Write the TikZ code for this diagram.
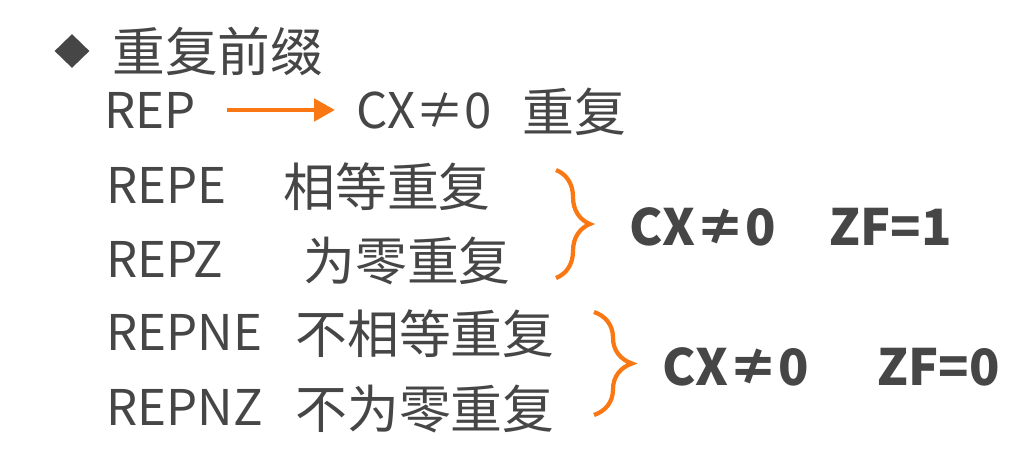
\documentclass[tikz,border=0pt]{standalone}
\usepackage{fontspec}
\setmainfont{Noto Sans CJK SC}
\usepackage{tikz}
\usetikzlibrary{positioning, arrows.meta, shapes.geometric, decorations.pathreplacing}
\definecolor{SlateText}{RGB}{70, 70, 70}
\definecolor{SlideOrange}{RGB}{250, 120, 20}

\begin{document}
\begin{tikzpicture}[x=0.02cm, y=-0.02cm,
    txt/.style={anchor=base west, inner sep=0pt, text=SlateText, font=\fontsize{28}{34}\selectfont},
    zh/.style={txt, font=\fontsize{29.5}{35}\selectfont},
    bold/.style={txt, font=\fontsize{28.5}{34}\selectfont\bfseries},
    brc/.style={SlideOrange, line width=2.4pt, decorate, decoration={brace, amplitude=#1}},
    arr/.style={SlideOrange, line width=2.8pt, -{Triangle[length=0.42cm, width=0.44cm]}}]
    \fill[white] (0,0) rectangle (1033,451);
    \useasboundingbox (0,0) rectangle (1033,451);

    % Titulo
    \node[diamond, fill=SlateText, inner sep=0pt, minimum width=0.7cm, minimum height=0.68cm] (bullet) at (72,51) {};
    \node[zh, font=\fontsize{30}{36}\selectfont] (title) at (112,71) {重复前缀};

    % REP
    \node[txt] (rep) at (104,128) {REP};
    \node[txt] (cx) at (356,128) {CX≠0};
    \node[zh] (rp) at (522,131) {重复};
    \draw[arr, shorten <=0.62cm, shorten >=0.42cm] (rep.east) -- (rep.east -| cx.west);

    % REPE / REPZ
    \node[txt] (repe) at (106,203) {REPE};
    \node[zh] (repe-t) at (283,206) {相等重复};
    \node[txt] (repz) at (106,277) {REPZ};
    \node[zh] (repz-t) at (303,280) {为零重复};
    \coordinate (b1t) at (556,170);
    \coordinate (b1b) at (556,278);
    \draw[brc=0.68cm] (b1t) -- (b1b);
    \node[bold] (cx1) at (629,245) {CX≠0};
    \node[bold] (zf1) at (829,245) {ZF=1};

    % REPNE / REPNZ
    \node[txt] (repne) at (106,350) {REPNE};
    \node[zh] (repne-t) at (295,353) {不相等重复};
    \node[txt] (repnz) at (106,425) {REPNZ};
    \node[zh] (repnz-t) at (295,428) {不为零重复};
    \coordinate (b2t) at (594,312);
    \coordinate (b2b) at (594,415);
    \draw[brc=0.76cm] (b2t) -- (b2b);
    \node[bold] (cx2) at (662,385) {CX≠0};
    \node[bold] (zf2) at (877,385) {ZF=0};
\end{tikzpicture}
\end{document}
